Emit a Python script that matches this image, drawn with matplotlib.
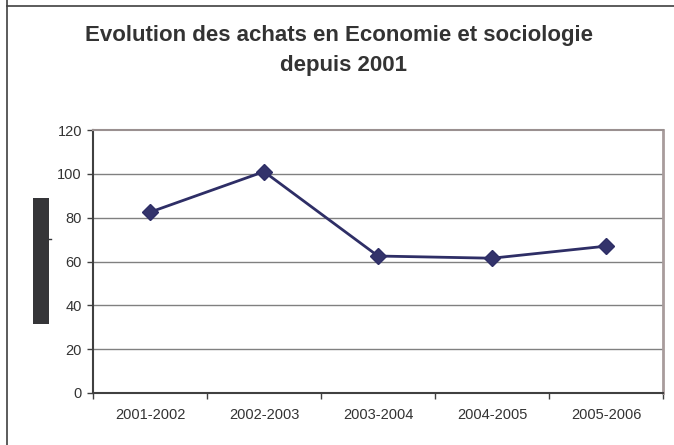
import matplotlib
matplotlib.use("Agg")
import matplotlib.pyplot as plt
from matplotlib.patches import Rectangle
from matplotlib.lines import Line2D

categories = ["2001-2002", "2002-2003", "2003-2004", "2004-2005", "2005-2006"]
values = [82.5, 101, 62.5, 61.5, 67]
yticks = [0, 20, 40, 60, 80, 100, 120]
title_lines = ["Evolution des achats en Economie et sociologie", "depuis 2001"]

plt.rcParams['font.family'] = ['Liberation Sans', 'DejaVu Sans']

W, H = 674, 445
fig = plt.figure(figsize=(W / 100, H / 100), dpi=100)
fig.patch.set_facecolor("white")

# axes placement in pixels
left, right, top, bottom = 93, 663, 130, 393
ax = fig.add_axes([left / W, 1 - bottom / H, (right - left) / W, (bottom - top) / H])

x = list(range(len(categories)))
ax.plot(x, values, color="#2e2e66", lw=2, marker="D", markersize=8.5,
        markerfacecolor="#33336b", markeredgecolor="#2e2e66", zorder=5, clip_on=False)

ax.set_xlim(-0.5, len(categories) - 0.5)
ax.set_ylim(0, 120)
ax.set_yticks(yticks)
ax.set_xticks(x)
ax.set_xticklabels(categories)
ax.set_xticks([i - 0.5 for i in range(len(categories) + 1)], minor=True)
ax.tick_params(axis="x", which="major", length=0, pad=11, labelsize=10.5, labelcolor="#333333")
ax.tick_params(axis="x", which="minor", length=4, width=1, color="#404040", direction="out")
ax.tick_params(axis="y", length=4, width=1, color="#404040", pad=4, labelsize=10.5, labelcolor="#333333")

for yv in yticks[1:-1]:
    ax.axhline(yv, color="#808080", lw=1, zorder=1)

ax.spines["left"].set_color("#404040")
ax.spines["bottom"].set_color("#404040")
ax.spines["left"].set_linewidth(1.5)
ax.spines["bottom"].set_linewidth(1.5)
ax.spines["top"].set_color("#9a9090")
ax.spines["right"].set_color("#a89c9c")
ax.spines["top"].set_linewidth(1.5)
ax.spines["right"].set_linewidth(2)

# title, two lines placed by baseline
for txt, xc, yb in zip(title_lines, [339, 344], [41.5, 71]):
    fig.text(xc / W, 1 - yb / H, txt, ha="center", va="baseline", fontsize=16,
             fontweight="bold", color="#333333")

# dark block at left (obscured axis label)
fig.patches.append(Rectangle((33 / W, 1 - 324 / H), 16 / W, 126 / H,
                             transform=fig.transFigure, facecolor="#353538",
                             edgecolor="none"))
fig.lines.append(Line2D([49 / W, 51 / W], [1 - 239 / H, 1 - 239 / H], transform=fig.transFigure,
                        color="#353538", lw=1))
# figure border lines (left and top)
fig.lines.append(Line2D([7 / W, 7 / W], [0, 1], transform=fig.transFigure,
                        color="#404040", lw=1.2))
fig.lines.append(Line2D([7 / W, 1], [1 - 6 / H, 1 - 6 / H], transform=fig.transFigure,
                        color="#404040", lw=1.2))

fig.savefig("out.png", dpi=100)
